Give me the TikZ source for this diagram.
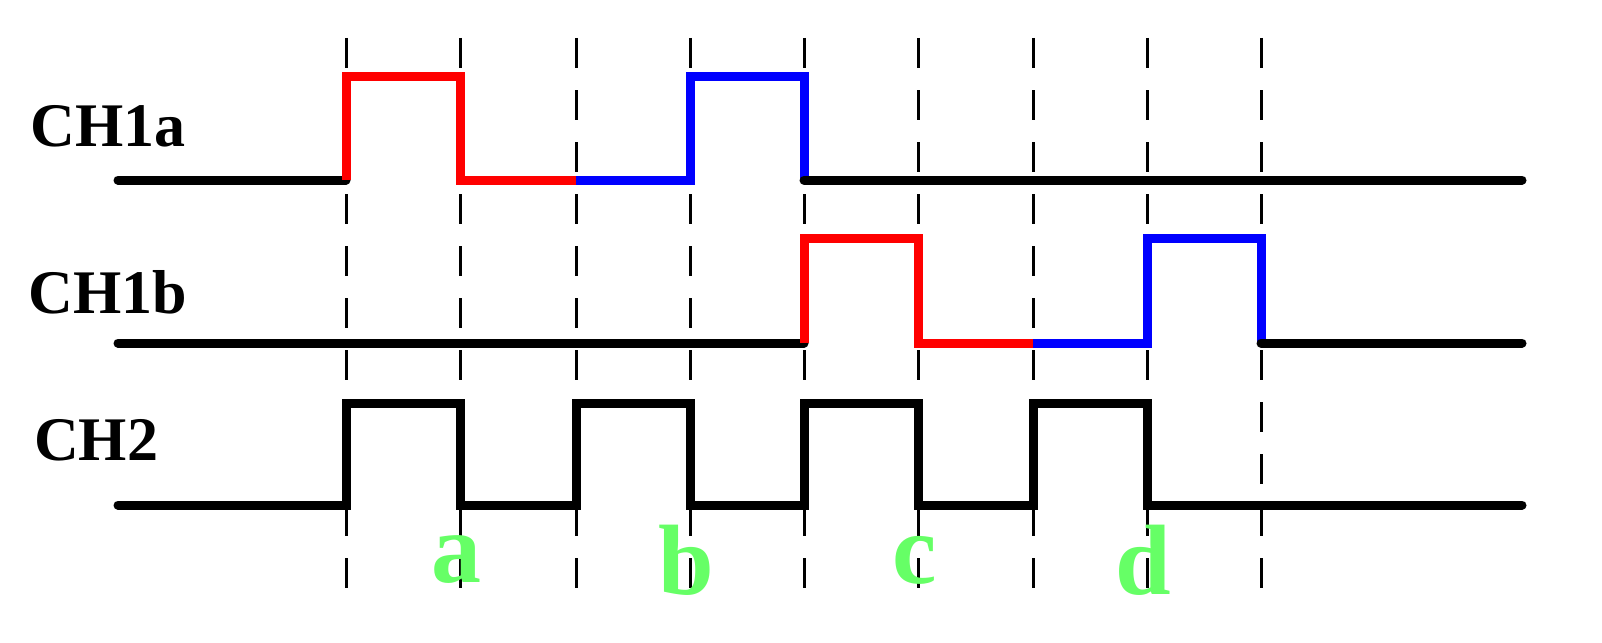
\documentclass[tikz,border=0pt]{standalone}
\usepackage{fontspec}
\setmainfont{Liberation Serif}
\definecolor{lgreen}{HTML}{66FF66}
\begin{document}
\begin{tikzpicture}[x=1pt,y=-1pt,
  sig/.style={line width=9pt,line join=miter},
  grid/.style={line width=3pt,dash pattern=on 30pt off 22pt},
  lab/.style={font=\bfseries\fontsize{62}{62}\selectfont,anchor=center},
  let/.style={font=\bfseries\fontsize{100}{100}\selectfont,text=lgreen,anchor=center}]
\useasboundingbox (0,0) rectangle (1602,642);
\foreach \x in {346,460,576,690,804,918,1033,1147,1261}
  \draw[grid] (\x,38) -- (\x,608);
% CH1a
\draw[sig,line cap=round] (118,180) -- (346,180);
\draw[sig,red] (346,180) -- (346,76) -- (460,76) -- (460,180) -- (576,180);
\draw[sig,blue] (576,180) -- (690,180) -- (690,76) -- (804,76) -- (804,180);
\draw[sig,line cap=round] (804,180) -- (1522,180);
% CH1b
\draw[sig,line cap=round] (118,343) -- (804,343);
\draw[sig,red] (804,343) -- (804,238) -- (918,238) -- (918,343) -- (1033,343);
\draw[sig,blue] (1033,343) -- (1147,343) -- (1147,238) -- (1261,238) -- (1261,343);
\draw[sig,line cap=round] (1261,343) -- (1522,343);
% CH2
\draw[sig,line cap=round] (118,505) -- (346,505) -- (346,403) -- (460,403) -- (460,505) -- (576,505) -- (576,403) -- (690,403) -- (690,505) -- (804,505) -- (804,403) -- (918,403) -- (918,505) -- (1033,505) -- (1033,403) -- (1147,403) -- (1147,505) -- (1522,505);
\node[lab] (l1) at (108,126) {CH1a};
\node[lab] (l2) at (108,292) {CH1b};
\node[lab] (l3) at (96,440) {CH2};
\node[let] (a) at (456,560) {a};
\node[let] (b) at (686,560) {b};
\node[let] (c) at (915,560) {c};
\node[let] (d) at (1143,560) {d};
\end{tikzpicture}
\end{document}
